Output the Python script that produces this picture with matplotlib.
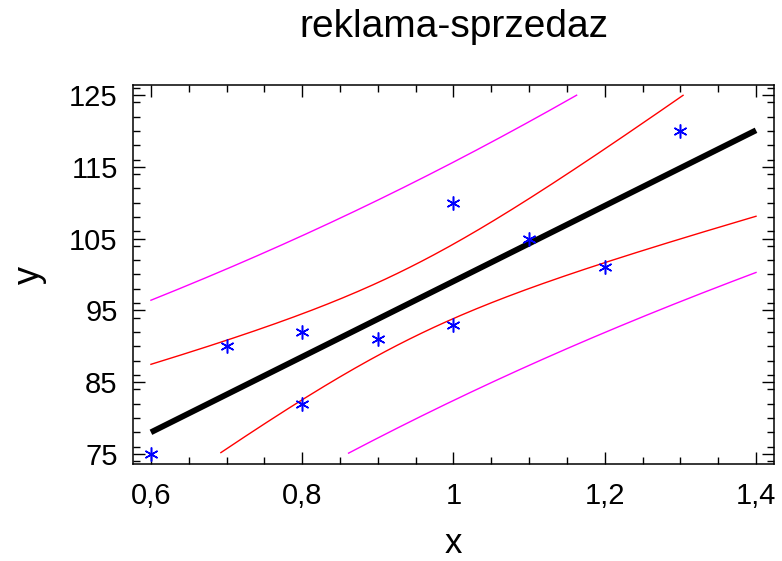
import numpy as np
import matplotlib
matplotlib.use("Agg")
import matplotlib.pyplot as plt
from matplotlib.ticker import FuncFormatter, MultipleLocator

# Data
x_data = [0.6, 0.7, 0.8, 0.8, 0.9, 1.0, 1.0, 1.1, 1.2, 1.3]
y_data = [75, 90, 92, 82, 91, 110, 93, 105, 101, 120]
title = "reklama-sprzedaz"
x_ticks = [0.6, 0.8, 1.0, 1.2, 1.4]
y_ticks = [75, 85, 95, 105, 115, 125]
t_crit = 2.306  # 95% two-sided, df = 8

plt.rcParams['font.family'] = ['Liberation Sans', 'DejaVu Sans']

x = np.array(x_data)
y = np.array(y_data)
n = len(x)
slope, intercept = np.polyfit(x, y, 1)
resid = y - (intercept + slope * x)
s = np.sqrt(np.sum(resid ** 2) / (n - 2))
xm = x.mean()
sxx = np.sum((x - xm) ** 2)

xs = np.linspace(0.6, 1.4, 200)
fit = intercept + slope * xs
se_mean = s * np.sqrt(1 / n + (xs - xm) ** 2 / sxx)
se_pred = s * np.sqrt(1 + 1 / n + (xs - xm) ** 2 / sxx)


def clip(v):
    v = v.copy()
    v[(v < 75) | (v > 125)] = np.nan
    return v


fig = plt.figure(figsize=(7.82, 5.61), dpi=100)
ax = fig.add_axes([0.170, 0.1729, 0.8198, 0.6756])

ax.plot(xs, clip(fit + t_crit * se_pred), color='#ff00ff', lw=1.0)
ax.plot(xs, clip(fit - t_crit * se_pred), color='#ff00ff', lw=1.0)
ax.plot(xs, clip(fit + t_crit * se_mean), color='#ff0000', lw=1.0)
ax.plot(xs, clip(fit - t_crit * se_mean), color='#ff0000', lw=1.0)
ax.plot(xs, fit, color='black', lw=4.2, solid_capstyle='butt')
ax.plot(x, y, linestyle='none', marker=(6, 2, 0), markersize=10,
        markeredgewidth=1.1, color='#0000ff', clip_on=False)

ax.set_xlim(0.5762, 1.4238)
ax.set_ylim(73.61, 126.39)
ax.set_xticks(x_ticks)
ax.set_yticks(y_ticks)
ax.xaxis.set_minor_locator(MultipleLocator(0.05))
ax.yaxis.set_minor_locator(MultipleLocator(2))

fmt = FuncFormatter(lambda v, p: f"{v:g}".replace('.', ','))
ax.xaxis.set_major_formatter(fmt)
ax.yaxis.set_major_formatter(fmt)

ax.tick_params(which='both', direction='in', top=True, right=True, width=1.0)
ax.tick_params(which='major', length=8.5, labelsize=21)
ax.tick_params(which='minor', length=5)
ax.tick_params(axis='x', which='major', pad=13)
ax.tick_params(axis='y', which='major', pad=11)
for sp in ax.spines.values():
    sp.set_linewidth(1.1)

ax.set_ylabel('y', fontsize=26)
ax.yaxis.set_label_coords(-0.161, 0.5)
ax.yaxis.label.set_va('center')
fig.text(453.5 / 782, 1 - 553 / 561, 'x', ha='center', va='baseline', fontsize=25)

fig.text(453.5 / 782, 1 - 37 / 561, title, ha='center', va='baseline', fontsize=28)

fig.savefig('out.png', dpi=100)
